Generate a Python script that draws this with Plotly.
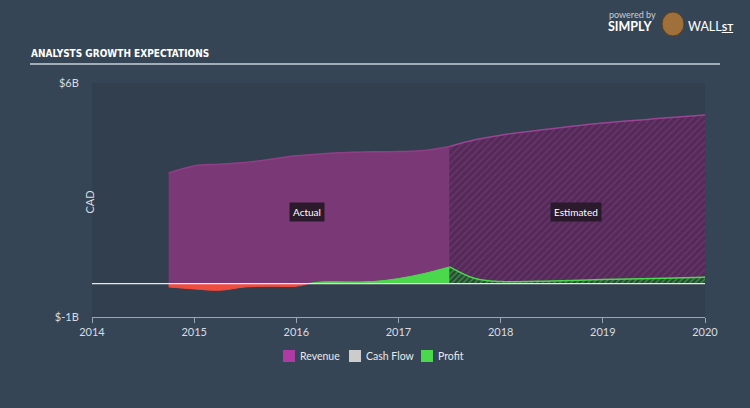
import plotly.graph_objects as go

# ---- data (CAD billions, x in fractional years) ----
years_actual = [2014.75, 2015.0, 2015.25, 2015.5, 2015.75, 2016.0, 2016.25, 2016.5, 2016.75, 2017.0, 2017.25, 2017.5]
revenue_actual = [3.31, 3.52, 3.57, 3.62, 3.72, 3.82, 3.88, 3.92, 3.94, 3.95, 3.98, 4.1]

years_est = [2017.5, 2017.75, 2018.0, 2018.5, 2019.0, 2019.5, 2020.0]
revenue_est = [4.1, 4.3, 4.44, 4.63, 4.8, 4.93, 5.04]

years_loss = [2014.75, 2015.0, 2015.25, 2015.5, 2015.75, 2016.0, 2016.12]
profit_loss = [-0.1, -0.16, -0.2, -0.1, -0.08, -0.08, 0.0]

years_profit = [2016.12, 2016.25, 2016.5, 2016.75, 2017.0, 2017.25, 2017.5]
profit_actual = [0.0, 0.05, 0.05, 0.06, 0.15, 0.3, 0.5]

profit_est = [0.5, 0.15, 0.06, 0.08, 0.12, 0.15, 0.19]

x_ticks = [2014, 2015, 2016, 2017, 2018, 2019, 2020]
y_ticks = [-1, 6]
y_ticktext = ["$-1B", "$6B"]

legend_names = ["Revenue", "Cash Flow", "Profit"]

REV = "#7b3876"
REV_LEG = "#b03aa3"
PROFIT = "#4cd84c"
LOSS = "#ef4b3f"
BG = "#364555"
PLOT_BG = "#323f4e"
TXT = "#d8dde2"

# plot area in pixels (for placing decoration in paper coords)
L, R, T, B = 92, 705, 83, 317
PW, PH = R - L, B - T


def px(x):
    return (x - L) / PW


def py(y):
    return (B - y) / PH


fig = go.Figure()

fig.add_trace(go.Scatter(x=years_actual, y=revenue_actual, fill="tozeroy", mode="lines",
                         line=dict(color="#8e3f88", width=1.5, shape="spline"),
                         fillcolor=REV, showlegend=False, hoverinfo="skip"))
fig.add_trace(go.Scatter(x=years_est, y=revenue_est, fill="tozeroy", mode="lines",
                         line=dict(color="#9a4593", width=1.5, shape="spline"),
                         fillcolor="#5a2c5a",
                         fillpattern=dict(shape="/", fgcolor="#7d4a7c", bgcolor="#55295a", size=5, solidity=0.25),
                         showlegend=False, hoverinfo="skip"))
fig.add_trace(go.Scatter(x=years_loss, y=profit_loss, fill="tozeroy", mode="lines",
                         line=dict(color=LOSS, width=1, shape="spline"),
                         fillcolor=LOSS, showlegend=False, hoverinfo="skip"))
fig.add_trace(go.Scatter(x=years_profit, y=profit_actual, fill="tozeroy", mode="lines",
                         line=dict(color=PROFIT, width=1, shape="spline"),
                         fillcolor=PROFIT, showlegend=False, hoverinfo="skip"))
fig.add_trace(go.Scatter(x=years_est, y=profit_est, fill="tozeroy", mode="lines",
                         line=dict(color=PROFIT, width=1.5, shape="spline"),
                         fillcolor="#2f6a3a",
                         fillpattern=dict(shape="/", fgcolor="#4cd84c", bgcolor="#2a4a38", size=4, solidity=0.35),
                         showlegend=False, hoverinfo="skip"))
fig.add_trace(go.Scatter(x=[2014, 2020], y=[0, 0], mode="lines",
                         line=dict(color="#e8e8e8", width=1.2), showlegend=False, hoverinfo="skip"))

fig.update_layout(
    width=750, height=408,
    margin=dict(l=L, r=750 - R, t=T, b=408 - B, autoexpand=False),
    paper_bgcolor=BG, plot_bgcolor=PLOT_BG,
    font=dict(family="Lato, Roboto, sans-serif", color=TXT, size=11),
    showlegend=False,
    xaxis=dict(range=[2014, 2020], tickvals=x_ticks, ticktext=[str(t) for t in x_ticks],
               showgrid=False, zeroline=False, showline=True, linecolor="#9aa6b2", linewidth=1,
               ticks="outside", ticklen=5, tickcolor="#9aa6b2",
               tickfont=dict(size=11, color=TXT)),
    yaxis=dict(range=[-1, 6], tickvals=y_ticks, ticktext=y_ticktext,
               showgrid=True, gridcolor="rgba(255,255,255,0.03)", zeroline=False, showline=False,
               ticks="outside", ticklen=10, tickcolor="rgba(0,0,0,0)",
               tickfont=dict(size=11, color=TXT)),
)

# y axis title
fig.add_annotation(xref="paper", yref="paper", x=px(80), y=py(202), text="CAD", textangle=-90,
                   showarrow=False, font=dict(size=11, color=TXT))

fig.add_annotation(x=2016.1, y=2.15, text="Actual", showarrow=False,
                   font=dict(size=10, color="#ffffff"), bgcolor="#2b1a2c", borderpad=3)
fig.add_annotation(x=2018.74, y=2.15, text="Estimated", showarrow=False,
                   font=dict(size=10, color="#ffffff"), bgcolor="#2b1a2c", borderpad=3)

# manual legend
leg_pos = [(283, REV_LEG), (349, "#cccccc"), (421, PROFIT)]
for name, (x0, col) in zip(legend_names, leg_pos):
    fig.add_shape(type="rect", xref="paper", yref="paper", x0=px(x0), x1=px(x0 + 12),
                  y0=py(362), y1=py(350), fillcolor=col, line=dict(width=0))
    fig.add_annotation(xref="paper", yref="paper", x=px(x0 + 15), y=py(356), xanchor="left",
                       yanchor="middle", text=name, showarrow=False,
                       font=dict(size=10.5, color="#e6e9ec"))

# title and rule
fig.add_annotation(xref="paper", yref="paper", x=px(29), y=py(53), xanchor="left", yanchor="middle",
                   text="<b>ANALYSTS GROWTH EXPECTATIONS</b>", showarrow=False,
                   font=dict(family="DejaVu Sans Condensed, Liberation Sans Narrow, sans-serif",
                             size=10, color="#ffffff"))
fig.add_shape(type="line", xref="paper", yref="paper", x0=px(30), x1=px(720), y0=py(64), y1=py(64),
              line=dict(color="#c8d0d8", width=1.5))

# logo text
fig.add_annotation(xref="paper", yref="paper", x=px(607), y=py(15), xanchor="left", yanchor="middle",
                   text="powered by", showarrow=False, font=dict(size=9, color="#c8ced4"))
fig.add_annotation(xref="paper", yref="paper", x=px(606), y=py(27), xanchor="left", yanchor="middle",
                   text="<b>SIMPLY</b>", showarrow=False,
                   font=dict(size=12.5, color="#ffffff", family="Lato, sans-serif"))
fig.add_shape(type="circle", xref="paper", yref="paper", x0=px(662), x1=px(684), y0=py(36), y1=py(12),
              fillcolor="#a0703a", line=dict(color="#5a3e22", width=1))
fig.add_annotation(xref="paper", yref="paper", x=px(686), y=py(27), xanchor="left", yanchor="middle",
                   text="WALL<u><b><span style='font-size:10px'>ST</span></b></u>", showarrow=False,
                   font=dict(size=12.5, color="#ffffff", family="Lato, sans-serif"))

fig.write_html("out.html")
